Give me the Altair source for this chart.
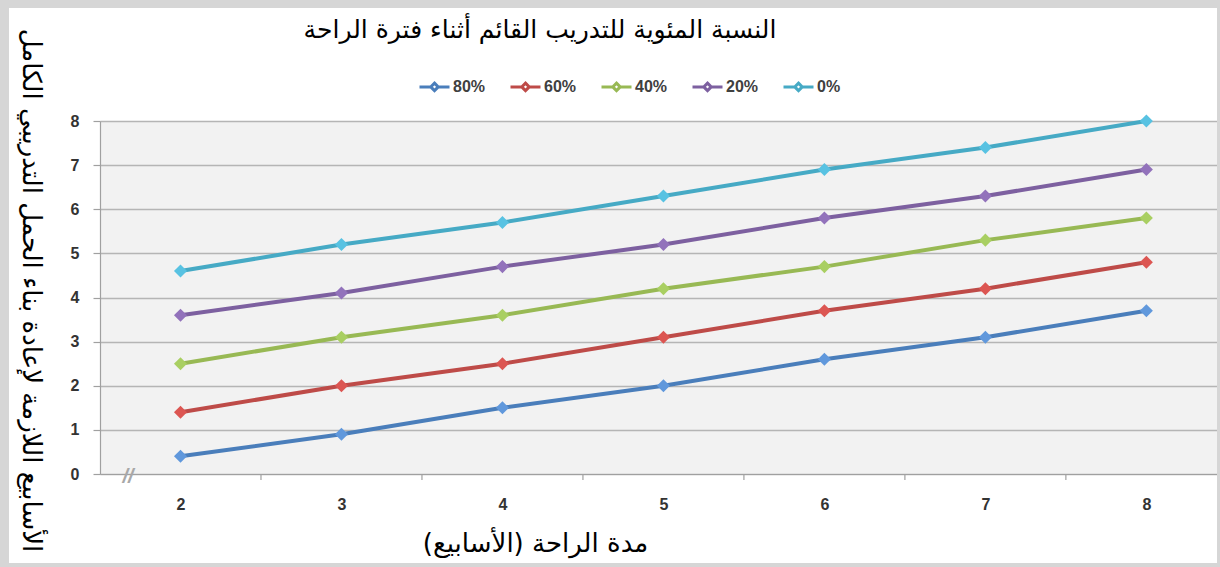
import altair as alt
import pandas as pd

# ---- data ----
weeks = [2, 3, 4, 5, 6, 7, 8]
series_names = ["80%", "60%", "40%", "20%", "0%"]
s80 = [0.4, 0.9, 1.5, 2.0, 2.6, 3.1, 3.7]
s60 = [1.4, 2.0, 2.5, 3.1, 3.7, 4.2, 4.8]
s40 = [2.5, 3.1, 3.6, 4.2, 4.7, 5.3, 5.8]
s20 = [3.6, 4.1, 4.7, 5.2, 5.8, 6.3, 6.9]
s0 = [4.6, 5.2, 5.7, 6.3, 6.9, 7.4, 8.0]
y_ticks = [0, 1, 2, 3, 4, 5, 6, 7, 8]
x_minor_ticks = [2.5, 3.5, 4.5, 5.5, 6.5, 7.5]

line_colors = ["#4a7ebb", "#be4b48", "#98b954", "#7d60a0", "#46aac5"]
marker_colors = ["#6098dc", "#dc5652", "#a9cf62", "#9272bb", "#58c2e2"]

title_text = "النسبة المئوية للتدريب القائم أثناء فترة الراحة"
x_title = "مدة الراحة (الأسابيع)"
y_title = "الأسابيع اللازمة لإعادة بناء الحمل التدريبي الكامل"

# ---- tables ----
rows = []
for name, vals in zip(series_names, [s80, s60, s40, s20, s0]):
    for w, v in zip(weeks, vals):
        rows.append({"week": w, "series": name, "value": v})
df = pd.DataFrame(rows)
tick_df = pd.DataFrame({"xt": x_minor_ticks})
one = pd.DataFrame({"a": [0]})

W, H = 1118, 353
x_scale = alt.Scale(domain=[1.5, 8.445], nice=False, zero=False)
y_scale = alt.Scale(domain=[0, 8], nice=False)

AR_FONT = "DejaVu Sans"
NUM_FONT = "Liberation Sans"
FRAME = "#d6d6d6"


def band(x1, x2, y1, y2):
    return alt.Chart(one).mark_rect(color=FRAME).encode(
        x=alt.value(x1), x2=alt.value(x2), y=alt.value(y1), y2=alt.value(y2)
    )


# grey picture frame (in padding area)
frame_top = band(-100, 1120, -121, -113)
frame_left = band(-100, -91, -121, 446)
frame_right = band(1117, 1120, -121, 446)
frame_bottom = band(-100, 1120, 442, 446)

title = alt.Chart(one).mark_text(
    text=title_text, font=AR_FONT, fontSize=25, color="black",
    align="center", baseline="middle",
).encode(x=alt.value(440), y=alt.value(-91))

lines = alt.Chart(df).mark_line(strokeWidth=4).encode(
    x=alt.X(
        "week:Q",
        scale=x_scale,
        axis=alt.Axis(
            values=weeks,
            format="d",
            grid=False,
            ticks=False,
            domain=True,
            domainColor="#a0a0a0",
            domainWidth=1.2,
            labelFont=NUM_FONT,
            labelFontSize=16,
            labelFontWeight="bold",
            labelColor="#333333",
            labelPadding=22,
            title=x_title,
            titleFont=AR_FONT,
            titleFontSize=26,
            titleFontWeight="normal",
            titleColor="black",
            titleX=435,
            titleY=69,
            titleAlign="center",
            titleBaseline="middle",
        ),
    ),
    y=alt.Y(
        "value:Q",
        scale=y_scale,
        axis=alt.Axis(
            values=y_ticks,
            grid=True,
            gridColor="#b5b5b5",
            gridWidth=1.3,
            domainColor="#a0a0a0",
            domainWidth=1.2,
            tickColor="#a0a0a0",
            tickSize=7,
            tickWidth=1.2,
            labelFont=NUM_FONT,
            labelFontSize=16,
            labelFontWeight="bold",
            labelColor="#333333",
            labelPadding=14,
            title=y_title,
            titleFont=AR_FONT,
            titleFontSize=26,
            titleFontWeight="normal",
            titleColor="black",
            titleAngle=90,
            titleX=-70,
            titleY=169,
            titleAlign="center",
            titleBaseline="middle",
        ),
    ),
    color=alt.Color(
        "series:N",
        scale=alt.Scale(domain=series_names, range=line_colors),
        legend=alt.Legend(
            orient="none",
            legendX=318,
            legendY=-51,
            direction="horizontal",
            title=None,
            symbolType="M-1,0L-0.25,0M0.25,0L1,0M0,-0.25L0.25,0L0,0.25L-0.25,0Z",
            symbolSize=900,
            symbolStrokeWidth=3,
            labelFont=NUM_FONT,
            labelFontSize=16,
            labelFontWeight="bold",
            labelColor="#404040",
            labelOffset=2,
            columnPadding=18,
        ),
    ),
    detail="series:N",
)

xticks = alt.Chart(tick_df).mark_rule(color="#a0a0a0", strokeWidth=1.2).encode(
    x=alt.X("xt:Q", scale=x_scale),
    y=alt.value(H),
    y2=alt.value(H + 6),
)
brk = alt.Chart(one).mark_text(
    text="//", fontSize=20, color="#a8a8a8", font=NUM_FONT, fontStyle="italic",
    fontWeight="bold",
).encode(x=alt.value(28), y=alt.value(356))

points = alt.Chart(df).mark_point(shape="diamond", filled=True, size=170, opacity=1).encode(
    x=alt.X("week:Q", scale=x_scale),
    y=alt.Y("value:Q", scale=y_scale),
    color=alt.Color(
        "series:N",
        scale=alt.Scale(domain=series_names, range=marker_colors),
        legend=None,
    ),
)

chart = (
    alt.layer(frame_top, frame_left, frame_right, frame_bottom, title,
              lines, xticks, brk, points)
    .resolve_scale(color="independent")
    .properties(
        width=W,
        height=H,
        background="white",
        padding={"left": 100, "top": 121, "right": 2, "bottom": 93},
        autosize=alt.AutoSizeParams(type="none"),
    )
    .configure_view(strokeWidth=0, fill="#f2f2f2")
)

chart.save("out.html", embed_options={"renderer": "svg", "actions": False})
